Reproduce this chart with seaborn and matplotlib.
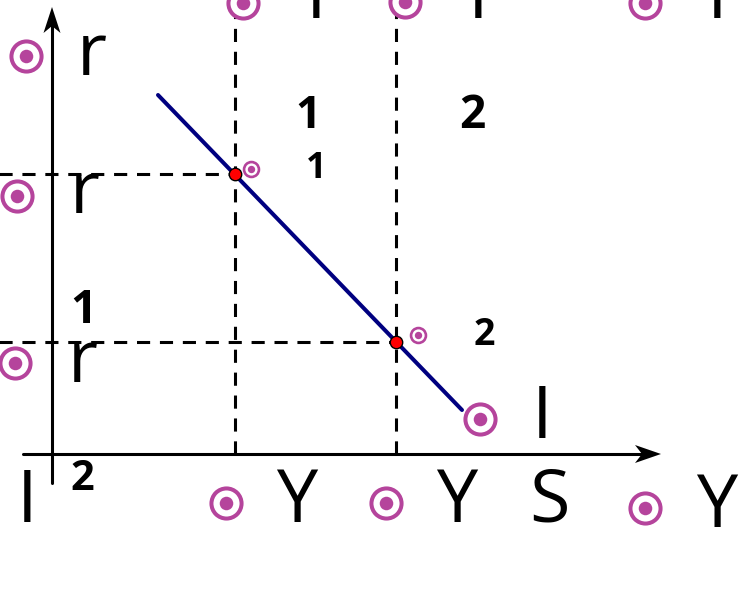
import matplotlib
matplotlib.use("Agg")
import matplotlib.pyplot as plt
from matplotlib.patches import Polygon
import seaborn as sns
import pandas as pd

# coordinates: origin where the two axes cross, 1 unit = 1 px
line_x = [106, 410]
line_y = [359, 44]

pts_x = [183, 344]
pts_y = [280, 112]

big_mark_x = [-26, -35, -37, 191, 353, 593, 428, 174, 334, 593]
big_mark_y = [398, 258, 91, 451, 452, 451, 35, -49, -49, -54]
small_mark_x = [199, 366]
small_mark_y = [285, 119]

vdash_x = [183, 344]
hdash_y = [280, 112]

big_labels = ["r", "r", "r", "I", "Y", "Y", "S", "Y", "I", "I", "I", "I"]
big_lx = [40, 33, 31, -25, 245, 405, 497, 665, 490, 264, 426, 665]
big_ly = [379, 241, 72, -68, -68, -68, -68, -73, 16, 436, 436, 436]

num_labels = ["1", "1", "2", "2", "1", "2"]
num_lx = [256, 264, 420, 432, 31, 30]
num_ly = [326, 276, 326, 109, 131, -36]
num_size = [32, 26, 33, 27, 33, 30]

purple = "#b5449c"

sns.set_style("white")
plt.rcParams["font.family"] = ["Open Sans", "DejaVu Sans"]

fig = plt.figure(figsize=(7.49, 5.91), dpi=100)
ax = fig.add_axes([0, 0, 1, 1])
ax.set_xlim(-52, 697)
ax.set_ylim(-137, 454)
ax.axis("off")

# dashed guides
dash = (0, (4.3, 3.2))
for x, y in zip(vdash_x, hdash_y):
    ax.plot([x, x], [0, 460], ls=dash, color="black", lw=2.2)
    ax.plot([-60, x], [y, y], ls=dash, color="black", lw=2.2)

# axes with stealth arrow heads
ax.plot([0, 0], [-29, 430], color="black", lw=2.2)
ax.plot([-29, 592], [0, 0], color="black", lw=2.2)
ax.add_patch(Polygon([(0, 447), (-8.5, 421), (0, 428), (8.5, 421)], closed=True, color="black", lw=0))
ax.add_patch(Polygon([(609, 0), (583, 9), (590, 0), (583, -9)], closed=True, color="black", lw=0))

df_line = pd.DataFrame({"x": line_x, "y": line_y})
sns.lineplot(data=df_line, x="x", y="y", color="#000080", lw=2.9, ax=ax, zorder=3)

df_pts = pd.DataFrame({"x": pts_x, "y": pts_y})
sns.scatterplot(data=df_pts, x="x", y="y", s=80, color="red", edgecolor="black", linewidth=1, ax=ax, zorder=4)

df_big = pd.DataFrame({"x": big_mark_x, "y": big_mark_y})
sns.scatterplot(data=df_big, x="x", y="y", s=470, facecolor="white", edgecolor=purple, linewidth=2.9, ax=ax, zorder=5)
sns.scatterplot(data=df_big, x="x", y="y", s=95, color=purple, linewidth=0, ax=ax, zorder=6)

df_small = pd.DataFrame({"x": small_mark_x, "y": small_mark_y})
sns.scatterplot(data=df_small, x="x", y="y", s=115, facecolor="white", edgecolor=purple, linewidth=1.9, ax=ax, zorder=5)
sns.scatterplot(data=df_small, x="x", y="y", s=28, color=purple, linewidth=0, ax=ax, zorder=6)

for t, x, y in zip(big_labels, big_lx, big_ly):
    ax.text(x, y, t, fontsize=53, ha="center", va="baseline", color="black")

for t, x, y, s in zip(num_labels, num_lx, num_ly, num_size):
    ax.text(x, y, t, fontsize=s, fontweight="bold", ha="center", va="baseline", color="black")

ax.set_xlabel("")
ax.set_ylabel("")
fig.savefig("out.png", dpi=100)
